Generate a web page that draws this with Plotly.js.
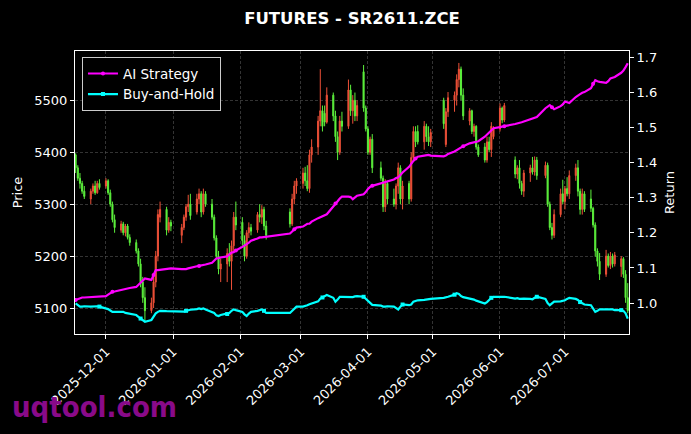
<!DOCTYPE html>
<html>
<head>
<meta charset="utf-8">
<script src="https://cdn.plot.ly/plotly-3.0.1.min.js"></script>
<style>
  html, body { margin: 0; padding: 0; background: #000; }
  #chart { width: 691px; height: 434px; }
</style>
</head>
<body>
<div id="chart"></div>
<script>
// trading days (one row per week)
var dates = [
  '2025-11-17','2025-11-18','2025-11-19','2025-11-20','2025-11-21',
  '2025-11-24','2025-11-25','2025-11-26','2025-11-27','2025-11-28',
  '2025-12-01','2025-12-02','2025-12-03','2025-12-04','2025-12-05',
  '2025-12-08','2025-12-09','2025-12-10','2025-12-11','2025-12-12',
  '2025-12-15','2025-12-16','2025-12-17','2025-12-18','2025-12-19',
  '2025-12-22','2025-12-23','2025-12-24','2025-12-25','2025-12-26',
  '2025-12-29','2025-12-30','2025-12-31',
  '2026-01-05','2026-01-06','2026-01-07','2026-01-08','2026-01-09',
  '2026-01-12','2026-01-13','2026-01-14','2026-01-15','2026-01-16',
  '2026-01-19','2026-01-20','2026-01-21','2026-01-22','2026-01-23',
  '2026-01-26','2026-01-27','2026-01-28','2026-01-29','2026-01-30',
  '2026-02-02','2026-02-03','2026-02-04','2026-02-05','2026-02-06',
  '2026-02-09','2026-02-10','2026-02-11','2026-02-12','2026-02-13',
  '2026-02-24','2026-02-25','2026-02-26','2026-02-27',
  '2026-03-02','2026-03-03','2026-03-04','2026-03-05','2026-03-06',
  '2026-03-09','2026-03-10','2026-03-11','2026-03-12','2026-03-13',
  '2026-03-16','2026-03-17','2026-03-18','2026-03-19','2026-03-20',
  '2026-03-23','2026-03-24','2026-03-25','2026-03-26','2026-03-27',
  '2026-03-30','2026-03-31','2026-04-01','2026-04-02','2026-04-03',
  '2026-04-07','2026-04-08','2026-04-09','2026-04-10',
  '2026-04-13','2026-04-14','2026-04-15','2026-04-16','2026-04-17',
  '2026-04-20','2026-04-21','2026-04-22','2026-04-23','2026-04-24',
  '2026-04-27','2026-04-28','2026-04-29','2026-04-30',
  '2026-05-06','2026-05-07','2026-05-08',
  '2026-05-11','2026-05-12','2026-05-13','2026-05-14','2026-05-15',
  '2026-05-18','2026-05-19','2026-05-20','2026-05-21','2026-05-22',
  '2026-05-25','2026-05-26','2026-05-27','2026-05-28','2026-05-29',
  '2026-06-01','2026-06-02','2026-06-03',
  '2026-06-08','2026-06-09','2026-06-10','2026-06-11','2026-06-12',
  '2026-06-15','2026-06-16','2026-06-17','2026-06-18',
  '2026-06-22','2026-06-23','2026-06-24','2026-06-25','2026-06-26',
  '2026-06-29','2026-06-30','2026-07-01','2026-07-02','2026-07-03',
  '2026-07-06','2026-07-07','2026-07-08','2026-07-09','2026-07-10',
  '2026-07-13','2026-07-14','2026-07-15','2026-07-16','2026-07-17',
  '2026-07-20','2026-07-21','2026-07-22','2026-07-23','2026-07-24',
  '2026-07-27','2026-07-28','2026-07-29','2026-07-30'
];

var openP = [
  5395,5370,5350,5340,5325,  5310,5325,5335,5322,5340,  5335,5345,5322,5300,5270,
  5250,5262,5245,5258,5236,  5226,5210,5185,5150,5120,  5095,5110,5150,5200,5275,
  5290,5250,5265,  5240,5255,5275,5295,5300,  5285,5310,5320,5285,5320,
  5300,5275,5235,5200,5175,  5185,5205,5190,5220,5275,  5265,5230,5200,5245,5255,
  5250,5280,5275,5290,5258,  5285,5262,5310,5335,  5340,5360,5345,5330,5395,
  5410,5460,5480,5475,5458,  5510,5470,5430,5400,5460,  5450,5520,5480,5500,5470,
  5555,5485,5445,5400,5425,  5370,5350,5295,5340,  5310,5300,5335,5370,5310,
  5340,5310,5390,5440,5440,  5420,5450,5430,5420,  5500,5415,5478,
  5500,5510,5540,5560,5510,  5460,5480,5440,5450,5410,  5410,5385,5420,5405,5430,
  5445,5485,5462,  5385,5358,5370,5340,5325,  5360,5370,5362,5385,
  5355,5375,5300,5255,5240,  5280,5320,5305,5330,5320,  5355,5370,5325,5290,5320,
  5310,5292,5260,5210,5190,  5165,5200,5182,5200,5185,  5180,5195,5165,5120
];
var highP = [
  5398,5375,5360,5345,5335,  5330,5340,5345,5345,5348,  5350,5348,5328,5305,5280,
  5268,5266,5262,5262,5242,  5232,5215,5195,5160,5140,  5120,5160,5210,5290,5305,
  5295,5275,5270,  5262,5280,5300,5318,5320,  5320,5330,5325,5330,5325,
  5310,5280,5240,5210,5195,  5215,5225,5230,5285,5305,  5275,5240,5250,5265,5262,
  5285,5300,5298,5295,5268,  5292,5320,5345,5350,  5370,5372,5375,5405,5425,
  5470,5560,5490,5490,5525,  5515,5480,5440,5470,5478,  5540,5530,5510,5515,5500,
  5568,5490,5450,5430,5435,  5382,5355,5348,5345,  5330,5340,5380,5375,5345,
  5345,5400,5450,5450,5452,  5460,5455,5450,5445,  5505,5485,5516,
  5517,5550,5572,5565,5523,  5485,5482,5455,5452,5415,  5418,5430,5430,5458,5450,
  5494,5488,5495,  5392,5375,5385,5345,5366,  5376,5391,5392,5391,
  5382,5380,5305,5264,5290,  5330,5347,5335,5352,5365,  5378,5385,5330,5330,5325,
  5328,5295,5265,5215,5206,  5212,5205,5208,5205,5208,  5200,5198,5173,5148
];
var lowP = [
  5360,5345,5330,5320,5310,  5300,5320,5318,5320,5328,  5330,5318,5295,5265,5245,
  5245,5240,5238,5232,5220,  5205,5180,5140,5110,5075,  5090,5100,5140,5190,5265,
  5240,5245,5248,  5225,5250,5268,5285,5270,  5280,5300,5275,5280,5295,
  5270,5230,5195,5165,5150,  5150,5180,5135,5210,5250,  5220,5190,5195,5235,5240,
  5245,5265,5262,5250,5232,  5255,5258,5300,5320,  5330,5335,5325,5322,5380,
  5395,5450,5440,5450,5455,  5460,5420,5385,5395,5440,  5445,5470,5455,5460,5460,
  5478,5440,5395,5395,5360,  5345,5285,5285,5300,  5295,5290,5320,5300,5290,
  5300,5305,5385,5410,5415,  5405,5420,5412,5410,  5445,5410,5468,
  5478,5490,5525,5500,5462,  5452,5435,5430,5405,5391,  5380,5380,5400,5391,5425,
  5440,5456,5458,  5350,5348,5330,5318,5314,  5343,5357,5355,5347,
  5350,5295,5250,5232,5235,  5275,5300,5290,5315,5310,  5345,5315,5280,5280,5285,
  5285,5255,5199,5180,5154,  5160,5178,5175,5178,5180,  5160,5158,5110,5090
];
var closeP = [
  5370,5350,5340,5325,5315,  5325,5335,5322,5340,5332,  5345,5322,5300,5270,5255,
  5262,5245,5258,5236,5226,  5210,5185,5150,5120,5095,  5110,5150,5200,5280,5290,
  5250,5265,5258,  5255,5275,5295,5300,5278,  5310,5320,5285,5320,5300,
  5275,5235,5200,5175,5185,  5205,5190,5220,5275,5260,  5230,5200,5245,5255,5248,
  5280,5275,5290,5258,5240,  5262,5310,5335,5345,  5360,5345,5330,5395,5410,
  5460,5480,5450,5458,5510,  5470,5430,5400,5460,5450,  5520,5480,5500,5470,5490,
  5485,5445,5400,5425,5370,  5350,5295,5340,5310,  5300,5335,5370,5310,5335,
  5310,5390,5440,5420,5420,  5450,5430,5420,5438,  5455,5478,5505,
  5510,5540,5560,5510,5470,  5480,5440,5450,5410,5395,  5385,5420,5405,5450,5445,
  5485,5462,5490,  5358,5370,5340,5325,5360,  5370,5362,5385,5355,
  5375,5300,5255,5240,5280,  5320,5305,5330,5320,5355,  5370,5325,5290,5320,5290,
  5292,5260,5210,5190,5165,  5200,5182,5200,5185,5202,  5195,5165,5120,5095
];

var aiRet = [
  1.009,1.012,1.014,1.016,1.016,  1.017,1.017,1.018,1.018,1.019,  1.020,1.024,1.028,1.032,1.033,
  1.038,1.039,1.040,1.041,1.043,  1.046,1.052,1.058,1.064,1.070,  1.066,1.080,1.094,1.094,1.095,
  1.097,1.098,1.099,  1.097,1.096,1.097,1.099,1.101,  1.105,1.106,1.108,1.108,1.110,
  1.115,1.120,1.127,1.128,1.130,  1.133,1.138,1.144,1.145,1.150,  1.160,1.163,1.168,1.172,1.178,
  1.184,1.187,1.187,1.188,1.189,  1.198,1.204,1.210,1.215,  1.218,1.222,1.226,1.226,1.232,
  1.242,1.245,1.248,1.251,1.253,  1.275,1.284,1.290,1.298,1.303,  1.303,1.302,1.296,1.300,1.306,
  1.310,1.316,1.325,1.331,1.334,  1.341,1.343,1.345,1.347,  1.352,1.356,1.358,1.365,1.372,
  1.388,1.398,1.405,1.412,1.417,  1.420,1.421,1.422,1.420,  1.418,1.420,1.425,
  1.432,1.436,1.440,1.445,1.447,  1.455,1.457,1.458,1.460,1.461,  1.474,1.480,1.485,1.492,1.498,
  1.501,1.503,1.504,  1.510,1.511,1.513,1.515,1.517,  1.523,1.525,1.528,1.530,
  1.555,1.560,1.564,1.558,1.552,  1.561,1.566,1.574,1.572,1.570,  1.587,1.592,1.595,1.599,1.601,
  1.612,1.625,1.635,1.632,1.630,  1.627,1.632,1.640,1.643,1.644,  1.656,1.662,1.672,1.683
];
var bhRet = [
  0.999,0.994,0.990,0.990,0.991,  0.990,0.991,0.990,0.991,0.990,  0.986,0.983,0.979,0.975,0.975,
  0.974,0.975,0.972,0.971,0.970,  0.966,0.961,0.956,0.952,0.947,  0.952,0.962,0.971,0.975,0.978,
  0.977,0.977,0.976,  0.975,0.976,0.978,0.980,0.981,  0.983,0.985,0.983,0.985,0.982,
  0.976,0.972,0.965,0.963,0.966,  0.969,0.972,0.978,0.982,0.980,  0.975,0.968,0.963,0.970,0.975,
  0.978,0.981,0.982,0.978,0.972,  0.972,0.978,0.985,0.990,  0.990,0.991,0.994,0.997,0.999,
  1.005,1.013,1.016,1.019,1.023,  1.015,1.004,1.010,1.018,1.018,  1.018,1.016,1.017,1.019,1.020,
  1.018,1.012,1.006,1.001,0.995,  0.993,0.990,0.990,0.991,  0.990,0.986,0.982,0.990,0.996,
  0.994,0.996,1.004,1.006,1.008,  1.009,1.010,1.010,1.012,  1.015,1.016,1.018,
  1.024,1.028,1.026,1.020,1.017,  1.014,1.012,1.010,1.007,1.005,  0.999,1.003,1.010,1.015,1.018,
  1.018,1.017,1.018,  1.013,1.014,1.012,1.013,1.013,  1.012,1.011,1.015,1.018,
  1.012,1.000,0.994,0.999,1.004,  1.005,1.006,1.008,1.012,1.015,  1.012,1.009,1.003,0.999,0.996,
  0.994,0.985,0.975,0.978,0.982,  0.982,0.981,0.982,0.982,0.980,  0.980,0.978,0.971,0.956
];

var upColor = '#ee5038';
var downColor = '#5cf03c';

var candles = {
  type: 'candlestick',
  x: dates,
  open: openP,
  high: highP,
  low: lowP,
  close: closeP,
  xaxis: 'x',
  yaxis: 'y',
  whiskerwidth: 0,
  increasing: { line: { color: upColor, width: 1 }, fillcolor: upColor },
  decreasing: { line: { color: downColor, width: 1 }, fillcolor: downColor },
  showlegend: false,
  hoverinfo: 'skip'
};

var ai = {
  type: 'scatter',
  name: 'AI Strategy',
  x: dates,
  y: aiRet,
  yaxis: 'y2',
  mode: 'lines+markers',
  line: { color: '#ff00ff', width: 2.2 },
  marker: { symbol: 'circle', size: 4, color: '#ff00ff', maxdisplayed: 14 }
};

var bh = {
  type: 'scatter',
  name: 'Buy-and-Hold',
  x: dates,
  y: bhRet,
  yaxis: 'y2',
  mode: 'lines+markers',
  line: { color: '#00ffff', width: 2.2 },
  marker: { symbol: 'square', size: 4, color: '#00ffff', maxdisplayed: 14 }
};

var axisStyle = {
  color: '#ffffff',
  showline: true,
  linecolor: '#ffffff',
  linewidth: 1,
  ticks: 'outside',
  ticklen: 4,
  tickcolor: '#ffffff',
  zeroline: false
};

var layout = {
  width: 691,
  height: 434,
  paper_bgcolor: '#000000',
  plot_bgcolor: '#000000',
  font: { family: 'DejaVu Sans', color: '#ffffff', size: 13 },
  margin: { l: 75, r: 62, t: 51, b: 100 },
  title: {
    text: 'FUTURES - SR2611.ZCE',
    font: { size: 16.5, weight: 'bold', color: '#ffffff' },
    xref: 'paper', x: 0.5, xanchor: 'center',
    yref: 'container', y: 0.958, yanchor: 'middle'
  },
  xaxis: Object.assign({}, axisStyle, {
    type: 'date',
    range: ['2025-11-16 17:00', '2026-07-30 14:00'],
    tick0: '2025-12-01',
    dtick: 'M1',
    tickformat: '%Y-%m-%d',
    tickangle: -45,
    mirror: true,
    showgrid: true,
    gridcolor: '#555555',
    griddash: '3px,2px',
    gridwidth: 0.6,
    rangeslider: { visible: false }
  }),
  yaxis: Object.assign({}, axisStyle, {
    range: [5050, 5595],
    tick0: 5100,
    dtick: 100,
    mirror: true,
    showgrid: true,
    gridcolor: '#555555',
    griddash: '3px,2px',
    gridwidth: 0.6,
    title: { text: 'Price', font: { size: 13 }, standoff: 8 }
  }),
  yaxis2: Object.assign({}, axisStyle, {
    overlaying: 'y',
    side: 'right',
    range: [0.912, 1.718],
    tick0: 1.0,
    dtick: 0.1,
    tickformat: '.1f',
    showgrid: false,
    title: { text: 'Return', font: { size: 13 }, standoff: 8 }
  }),
  legend: {
    x: 0.0126, y: 0.978,
    xanchor: 'left', yanchor: 'top',
    bgcolor: '#000000',
    bordercolor: '#cccccc',
    borderwidth: 1,
    font: { size: 13.5, color: '#ffffff' }
  },
  annotations: [{
    text: 'uqtool.com',
    xref: 'paper', yref: 'paper',
    x: -0.117, y: -0.258,
    xanchor: 'left', yanchor: 'middle',
    showarrow: false,
    font: { family: 'DejaVu Sans Condensed, DejaVu Sans', size: 29, weight: 'bold', color: '#890a89' }
  }]
};

Plotly.newPlot('chart', [candles, ai, bh], layout, { displayModeBar: false, staticPlot: true });
</script>
</body>
</html>
